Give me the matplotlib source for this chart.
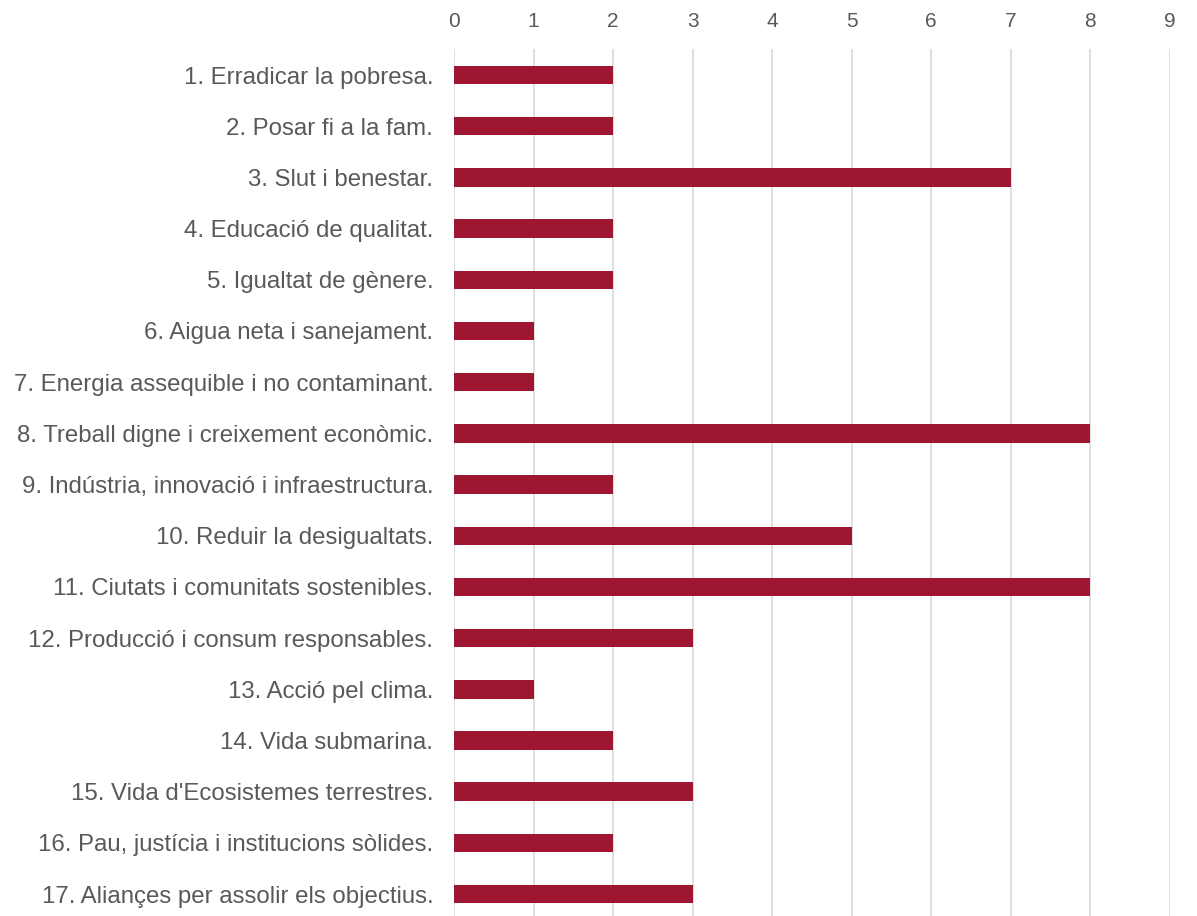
import matplotlib
matplotlib.use("Agg")
import matplotlib.pyplot as plt

categories = [
    "1. Erradicar la pobresa.",
    "2. Posar fi a la fam.",
    "3. Slut i benestar.",
    "4. Educació de qualitat.",
    "5. Igualtat de gènere.",
    "6. Aigua neta i sanejament.",
    "7. Energia assequible i no contaminant.",
    "8. Treball digne i creixement econòmic.",
    "9. Indústria, innovació i infraestructura.",
    "10. Reduir la desigualtats.",
    "11. Ciutats i comunitats sostenibles.",
    "12. Producció i consum responsables.",
    "13. Acció pel clima.",
    "14. Vida submarina.",
    "15. Vida d'Ecosistemes terrestres.",
    "16. Pau, justícia i institucions sòlides.",
    "17. Aliançes per assolir els objectius.",
]
values = [2, 2, 7, 2, 2, 1, 1, 8, 2, 5, 8, 3, 1, 2, 3, 2, 3]
x_ticks = list(range(0, 10))

plt.rcParams['font.family'] = ['Liberation Sans', 'DejaVu Sans']

fig = plt.figure(figsize=(11.97, 9.16), dpi=100)
ax = fig.add_axes([0.3793, -0.004, 0.5981, 0.95])

pos = list(range(len(categories)))
ax.barh(pos, values, height=0.36, color='#9E1631', zorder=3)

ax.set_xlim(0, 9)
ax.set_ylim(len(categories) - 0.5, -0.5)
ax.set_xticks(x_ticks)
ax.set_yticks(pos)
ax.set_yticklabels(categories)
ax.xaxis.tick_top()
ax.tick_params(axis='x', length=0, pad=13, labelsize=15, labelcolor='#595959')
ax.tick_params(axis='y', length=0, pad=15, labelsize=17.3, labelcolor='#595959')
ax.grid(axis='x', color='#D9D9D9', linewidth=1.2, zorder=0)
for s in ax.spines.values():
    s.set_visible(False)

fig.savefig("out.png", dpi=100)
